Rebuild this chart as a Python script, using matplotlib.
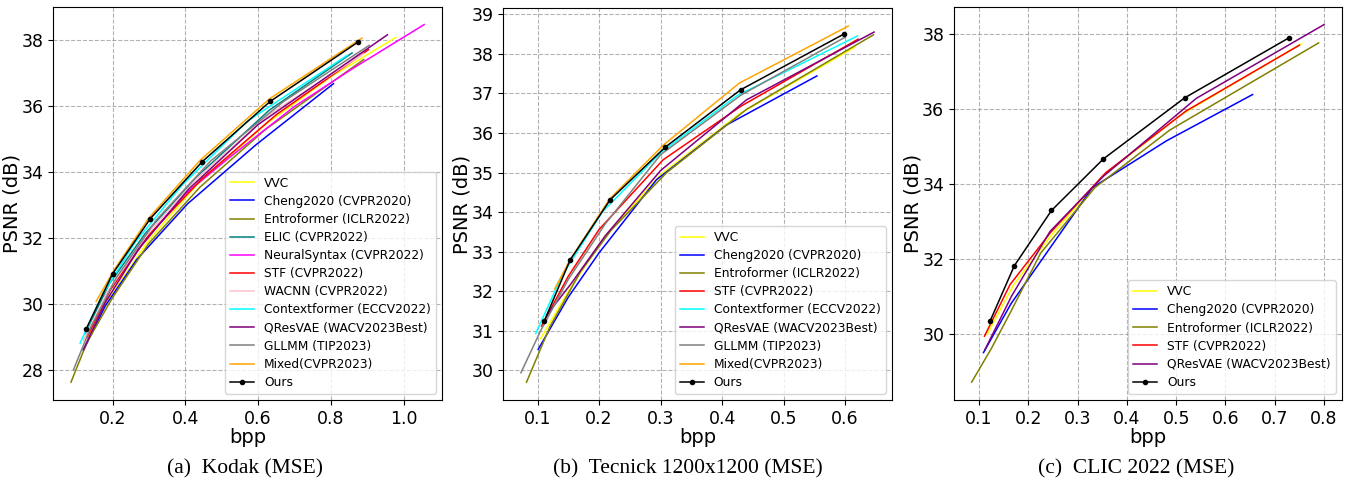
import numpy as np
import matplotlib
matplotlib.use('Agg')
from matplotlib import pyplot as plt

# ---------------- Kodak ----------------
kodak_vvc_bpp = [0.13, 0.20, 0.30, 0.43, 0.62, 0.80, 0.978]
kodak_vvc_psnr = [28.95, 30.35, 31.95, 33.60, 35.45, 36.90, 38.09]
kodak_cheng_bpp = [0.12, 0.18, 0.266, 0.4065, 0.5956, 0.807]
kodak_cheng_psnr = [28.60, 29.95, 31.35, 33.05, 34.85, 36.69]
kodak_entro_bpp = [0.086, 0.13, 0.20, 0.30, 0.44, 0.62, 0.89]
kodak_entro_psnr = [27.64, 28.85, 30.20, 31.85, 33.55, 35.30, 37.42]
kodak_elic_bpp = [0.124, 0.19, 0.29, 0.44, 0.63, 0.858]
kodak_elic_psnr = [29.10, 30.60, 32.15, 33.95, 35.88, 37.62]
kodak_nsyn_bpp = [0.18, 0.27, 0.40, 0.52, 0.70, 0.86, 1.056]
kodak_nsyn_psnr = [30.25, 31.70, 33.35, 34.44, 36.00, 37.15, 38.48]
kodak_stf_bpp = [0.13, 0.195, 0.30, 0.445, 0.65, 0.903]
kodak_stf_psnr = [29.00, 30.45, 32.10, 33.80, 35.75, 37.72]
kodak_wacnn_bpp = [0.12, 0.185, 0.29, 0.43, 0.63, 0.89]
kodak_wacnn_psnr = [28.90, 30.35, 32.05, 33.80, 35.75, 37.60]
kodak_ctx_bpp = [0.111, 0.17, 0.26, 0.39, 0.57, 0.845]
kodak_ctx_psnr = [28.82, 30.25, 31.85, 33.60, 35.55, 37.55]
kodak_qres_bpp = [0.12, 0.18, 0.27, 0.41, 0.60, 0.955]
kodak_qres_psnr = [28.63, 30.05, 31.65, 33.50, 35.45, 38.17]
kodak_gllmm_bpp = [0.093, 0.14, 0.21, 0.32, 0.47, 0.67, 0.905]
kodak_gllmm_psnr = [28.02, 29.30, 30.80, 32.55, 34.35, 36.15, 37.85]
kodak_mixed_bpp = [0.155, 0.205, 0.30, 0.44, 0.63, 0.885]
kodak_mixed_psnr = [30.09, 31.05, 32.62, 34.36, 36.22, 38.07]
kodak_ours_bpp = [0.128, 0.200, 0.304, 0.446, 0.633, 0.873]
kodak_ours_psnr = [29.26, 30.92, 32.60, 34.32, 36.15, 37.94]

# ---------------- Tecnick ----------------
tec_vvc_bpp = [0.105, 0.15, 0.21, 0.30, 0.43, 0.616]
tec_vvc_psnr = [30.80, 32.00, 33.40, 34.95, 36.50, 38.17]
tec_cheng_bpp = [0.101, 0.15, 0.20, 0.2935, 0.407, 0.554]
tec_cheng_psnr = [30.53, 31.85, 32.97, 34.82, 36.20, 37.44]
tec_entro_bpp = [0.082, 0.12, 0.17, 0.22, 0.31, 0.44, 0.646]
tec_entro_psnr = [29.70, 31.10, 32.50, 33.55, 35.00, 36.60, 38.48]
tec_stf_bpp = [0.1065, 0.15, 0.20, 0.304, 0.43, 0.621]
tec_stf_psnr = [31.12, 32.38, 33.56, 35.32, 36.67, 38.37]
tec_ctx_bpp = [0.097, 0.14, 0.205, 0.30, 0.425, 0.62]
tec_ctx_psnr = [30.93, 32.40, 34.00, 35.50, 36.95, 38.45]
tec_qres_bpp = [0.115, 0.155, 0.21, 0.30, 0.44, 0.647]
tec_qres_psnr = [31.40, 32.20, 33.40, 35.05, 36.84, 38.55]
tec_gllmm_bpp = [0.073, 0.105, 0.15, 0.21, 0.30, 0.43, 0.60]
tec_gllmm_psnr = [29.94, 31.00, 32.30, 33.70, 35.45, 36.95, 38.42]
tec_mixed_bpp = [0.128, 0.153, 0.217, 0.305, 0.428, 0.605]
tec_mixed_psnr = [32.06, 32.80, 34.33, 35.70, 37.26, 38.70]
tec_ours_bpp = [0.1107, 0.153, 0.218, 0.3075, 0.430, 0.598]
tec_ours_psnr = [31.24, 32.79, 34.31, 35.64, 37.09, 38.50]

# ---------------- CLIC 2022 ----------------
clic_vvc_bpp = [0.116, 0.17, 0.245, 0.35, 0.51, 0.7545]
clic_vvc_psnr = [29.97, 31.30, 32.60, 34.20, 35.85, 37.75]
clic_cheng_bpp = [0.109, 0.165, 0.25, 0.33, 0.48, 0.655]
clic_cheng_psnr = [29.49, 30.80, 32.40, 33.90, 35.15, 36.39]
clic_entro_bpp = [0.085, 0.125, 0.165, 0.225, 0.335, 0.487, 0.789]
clic_entro_psnr = [28.70, 29.60, 30.60, 32.15, 33.90, 35.44, 37.77]
clic_stf_bpp = [0.111, 0.163, 0.245, 0.357, 0.52, 0.75]
clic_stf_psnr = [29.93, 31.31, 32.70, 34.30, 35.95, 37.71]
clic_qres_bpp = [0.112, 0.166, 0.244, 0.352, 0.541, 0.800]
clic_qres_psnr = [29.57, 31.00, 32.73, 34.20, 36.29, 38.26]
clic_ours_bpp = [0.1223, 0.1715, 0.247, 0.3524, 0.517, 0.728]
clic_ours_psnr = [30.33, 31.81, 33.29, 34.67, 36.30, 37.90]

# nomes e cores de cada metodo
names = {
    'vvc': 'VVC', 'cheng': 'Cheng2020 (CVPR2020)', 'entro': 'Entroformer (ICLR2022)',
    'elic': 'ELIC (CVPR2022)', 'nsyn': 'NeuralSyntax (CVPR2022)', 'stf': 'STF (CVPR2022)',
    'wacnn': 'WACNN (CVPR2022)', 'ctx': 'Contextformer (ECCV2022)',
    'qres': 'QResVAE (WACV2023Best)', 'gllmm': 'GLLMM (TIP2023)', 'mixed': 'Mixed(CVPR2023)',
}
colors = {
    'vvc': 'yellow', 'cheng': 'blue', 'entro': 'olive', 'elic': 'teal', 'nsyn': 'magenta',
    'stf': 'red', 'wacnn': 'pink', 'ctx': 'cyan', 'qres': 'purple', 'gllmm': 'gray',
    'mixed': 'orange',
}

kodak = [('vvc', kodak_vvc_bpp, kodak_vvc_psnr), ('cheng', kodak_cheng_bpp, kodak_cheng_psnr),
         ('entro', kodak_entro_bpp, kodak_entro_psnr), ('elic', kodak_elic_bpp, kodak_elic_psnr),
         ('nsyn', kodak_nsyn_bpp, kodak_nsyn_psnr), ('stf', kodak_stf_bpp, kodak_stf_psnr),
         ('wacnn', kodak_wacnn_bpp, kodak_wacnn_psnr), ('ctx', kodak_ctx_bpp, kodak_ctx_psnr),
         ('qres', kodak_qres_bpp, kodak_qres_psnr), ('gllmm', kodak_gllmm_bpp, kodak_gllmm_psnr),
         ('mixed', kodak_mixed_bpp, kodak_mixed_psnr)]
tecnick = [('vvc', tec_vvc_bpp, tec_vvc_psnr), ('cheng', tec_cheng_bpp, tec_cheng_psnr),
           ('entro', tec_entro_bpp, tec_entro_psnr), ('stf', tec_stf_bpp, tec_stf_psnr),
           ('ctx', tec_ctx_bpp, tec_ctx_psnr), ('qres', tec_qres_bpp, tec_qres_psnr),
           ('gllmm', tec_gllmm_bpp, tec_gllmm_psnr), ('mixed', tec_mixed_bpp, tec_mixed_psnr)]
clic = [('vvc', clic_vvc_bpp, clic_vvc_psnr), ('cheng', clic_cheng_bpp, clic_cheng_psnr),
        ('entro', clic_entro_bpp, clic_entro_psnr), ('stf', clic_stf_bpp, clic_stf_psnr),
        ('qres', clic_qres_bpp, clic_qres_psnr)]

# (curvas, ours x, ours y, legenda, posicao dos eixos, centro da legenda em px, ticks)
panels = [
    (kodak, kodak_ours_bpp, kodak_ours_psnr, '(a)  Kodak (MSE)', [0.0394, 0.1718, 0.2869, 0.8143], 245,
     [0.2, 0.4, 0.6, 0.8, 1.0], [28, 30, 32, 34, 36, 38]),
    (tecnick, tec_ours_bpp, tec_ours_psnr, '(b)  Tecnick 1200x1200 (MSE)', [0.3717, 0.1718, 0.2869, 0.8110], 688,
     [0.1, 0.2, 0.3, 0.4, 0.5, 0.6], list(range(30, 40))),
    (clic, clic_ours_bpp, clic_ours_psnr, '(c)  CLIC 2022 (MSE)', [0.7046, 0.1718, 0.2863, 0.8143], 1136,
     [0.1, 0.2, 0.3, 0.4, 0.5, 0.6, 0.7, 0.8], [30, 32, 34, 36, 38]),
]

fig = plt.figure(figsize=(13.54, 4.83), dpi=100)

for curves, ours_x, ours_y, caption, rect, cx, xt, yt in panels:
    ax = fig.add_axes(rect)
    for key, x, y in curves:
        ax.plot(x, y, color=colors[key], linewidth=1.1, label=names[key])
    ax.plot(ours_x, ours_y, color='black', marker='.', markersize=6, linewidth=1.1, label='Ours')

    ax.set_xticks(xt)
    ax.set_yticks(yt)
    ax.tick_params(labelsize=12.5)
    ax.set_xlabel('bpp', fontsize=14, labelpad=0)
    ax.set_ylabel('PSNR (dB)', fontsize=14, labelpad=0)
    ax.grid(True, linestyle='--', color='gray', alpha=0.6, linewidth=0.8)
    ax.legend(loc='lower right', fontsize=8.8, labelspacing=0.42)

    # legenda da subfigura
    fig.text(cx / 1354, 0.03, caption, ha='center', va='center', fontsize=15.5, family='Liberation Serif')

fig.savefig('out.png', dpi=100)
